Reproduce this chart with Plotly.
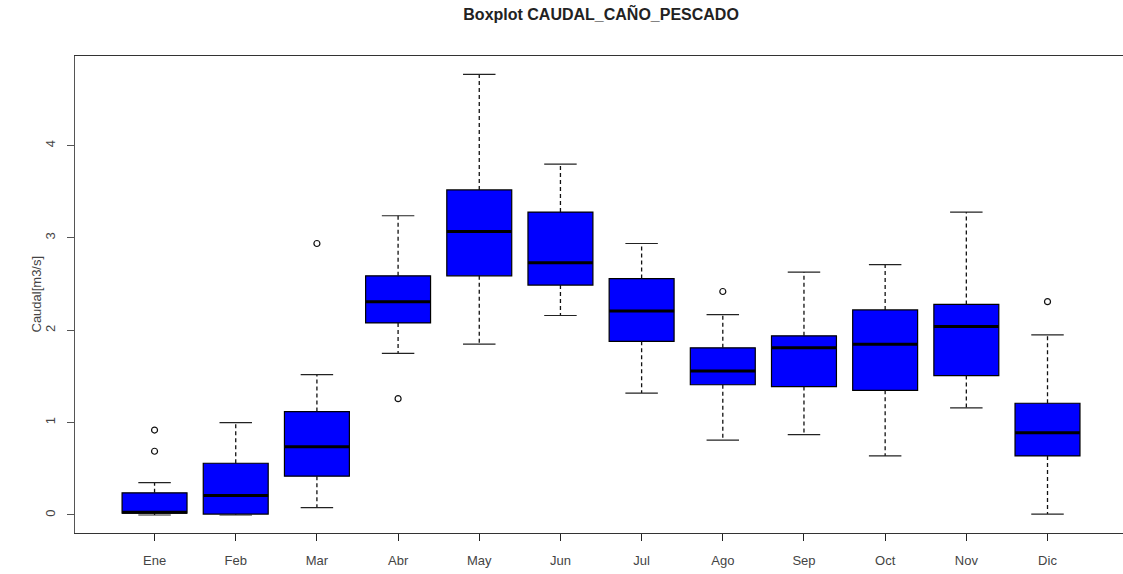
import plotly.graph_objects as go

# Monthly flow statistics (m3/s)
meses = ["Ene", "Feb", "Mar", "Abr", "May", "Jun", "Jul", "Ago", "Sep", "Oct", "Nov", "Dic"]
bigote_inf = [0.00, 0.00, 0.08, 1.75, 1.85, 2.16, 1.32, 0.81, 0.87, 0.64, 1.16, 0.01]
cuartil_1 = [0.02, 0.01, 0.42, 2.08, 2.59, 2.49, 1.88, 1.41, 1.39, 1.35, 1.51, 0.64]
mediana = [0.03, 0.21, 0.74, 2.31, 3.07, 2.73, 2.21, 1.56, 1.81, 1.85, 2.04, 0.89]
cuartil_3 = [0.24, 0.56, 1.12, 2.59, 3.52, 3.28, 2.56, 1.81, 1.94, 2.22, 2.28, 1.21]
bigote_sup = [0.35, 1.00, 1.52, 3.24, 4.77, 3.80, 2.94, 2.17, 2.63, 2.71, 3.28, 1.95]

# Outlying values: month label and flow
atipicos_mes = ["Ene", "Ene", "Mar", "Abr", "Ago", "Dic"]
atipicos_valor = [0.69, 0.92, 2.94, 1.26, 2.42, 2.31]

pos = list(range(1, len(meses) + 1))
ancho = 0.8
medio_cap = 0.2

fig = go.Figure()

# dashed whiskers
wx, wy = [], []
for p, lo, q1, q3, hi in zip(pos, bigote_inf, cuartil_1, cuartil_3, bigote_sup):
    wx += [p, p, None, p, p, None]
    wy += [q3, hi, None, q1, lo, None]
fig.add_trace(go.Scatter(x=wx, y=wy, mode="lines",
                         line=dict(color="#111111", width=1.3, dash="4px,3px"),
                         hoverinfo="skip", showlegend=False))

# whisker caps
cx, cy = [], []
for p, lo, hi in zip(pos, bigote_inf, bigote_sup):
    cx += [p - medio_cap, p + medio_cap, None, p - medio_cap, p + medio_cap, None]
    cy += [hi, hi, None, lo, lo, None]
fig.add_trace(go.Scatter(x=cx, y=cy, mode="lines",
                         line=dict(color="#222222", width=1.2),
                         hoverinfo="skip", showlegend=False))

# boxes (Q1 to Q3)
fig.add_trace(go.Bar(x=pos, y=[b - a for a, b in zip(cuartil_1, cuartil_3)], base=cuartil_1,
                     width=ancho, marker=dict(color="#0000FF", line=dict(color="#000000", width=1.2)),
                     showlegend=False))

# medians
mx, my = [], []
for p, m in zip(pos, mediana):
    mx += [p - ancho / 2, p + ancho / 2, None]
    my += [m, m, None]
fig.add_trace(go.Scatter(x=mx, y=my, mode="lines",
                         line=dict(color="#000000", width=3),
                         hoverinfo="skip", showlegend=False))

# outliers
fig.add_trace(go.Scatter(x=[pos[meses.index(m)] for m in atipicos_mes], y=atipicos_valor,
                         mode="markers",
                         marker=dict(symbol="circle-open", size=6, color="#111111",
                                     line=dict(width=1.2)),
                         showlegend=False))

fig.update_layout(
    width=1123, height=574,
    margin=dict(l=75, r=0, t=56, b=41),
    paper_bgcolor="white", plot_bgcolor="white",
    font=dict(family="Liberation Sans, Arial, sans-serif", size=13, color="#333333"),
    title=dict(text="<b>Boxplot CAUDAL_CAÑO_PESCADO</b>",
               font=dict(size=16, color="#222222"),
               xref="paper", x=0.502, xanchor="center",
               yref="container", y=1 - 14 / 574, yanchor="middle"),
    barmode="overlay",
    xaxis=dict(range=[0.02, 12.93], tickmode="array", tickvals=pos, ticktext=meses,
               ticks="outside", ticklen=7, tickcolor="#222222", tickwidth=1.2,
               showline=True, linecolor="#333333", linewidth=1.2, mirror=True,
               showgrid=False, zeroline=False, ticklabelstandoff=8,
               tickfont=dict(size=13, color="#444444")),
    yaxis=dict(range=[-0.195, 4.97], tickmode="array", tickvals=[0, 1, 2, 3, 4],
               tickangle=-90, ticks="outside", ticklen=7, tickcolor="#555555",
               showline=True, linecolor="#555555", linewidth=1.2, mirror=False,
               showgrid=False, zeroline=False, ticklabelstandoff=7,
               tickfont=dict(size=13, color="#444444")),
    annotations=[dict(text="Caudal[m3/s]", textangle=-90, xref="paper", yref="paper",
                      x=(36 - 75) / 1048, y=0.5, xanchor="center", yanchor="middle",
                      showarrow=False, font=dict(size=13, color="#444444"))],
)

fig.write_html("out.html")
